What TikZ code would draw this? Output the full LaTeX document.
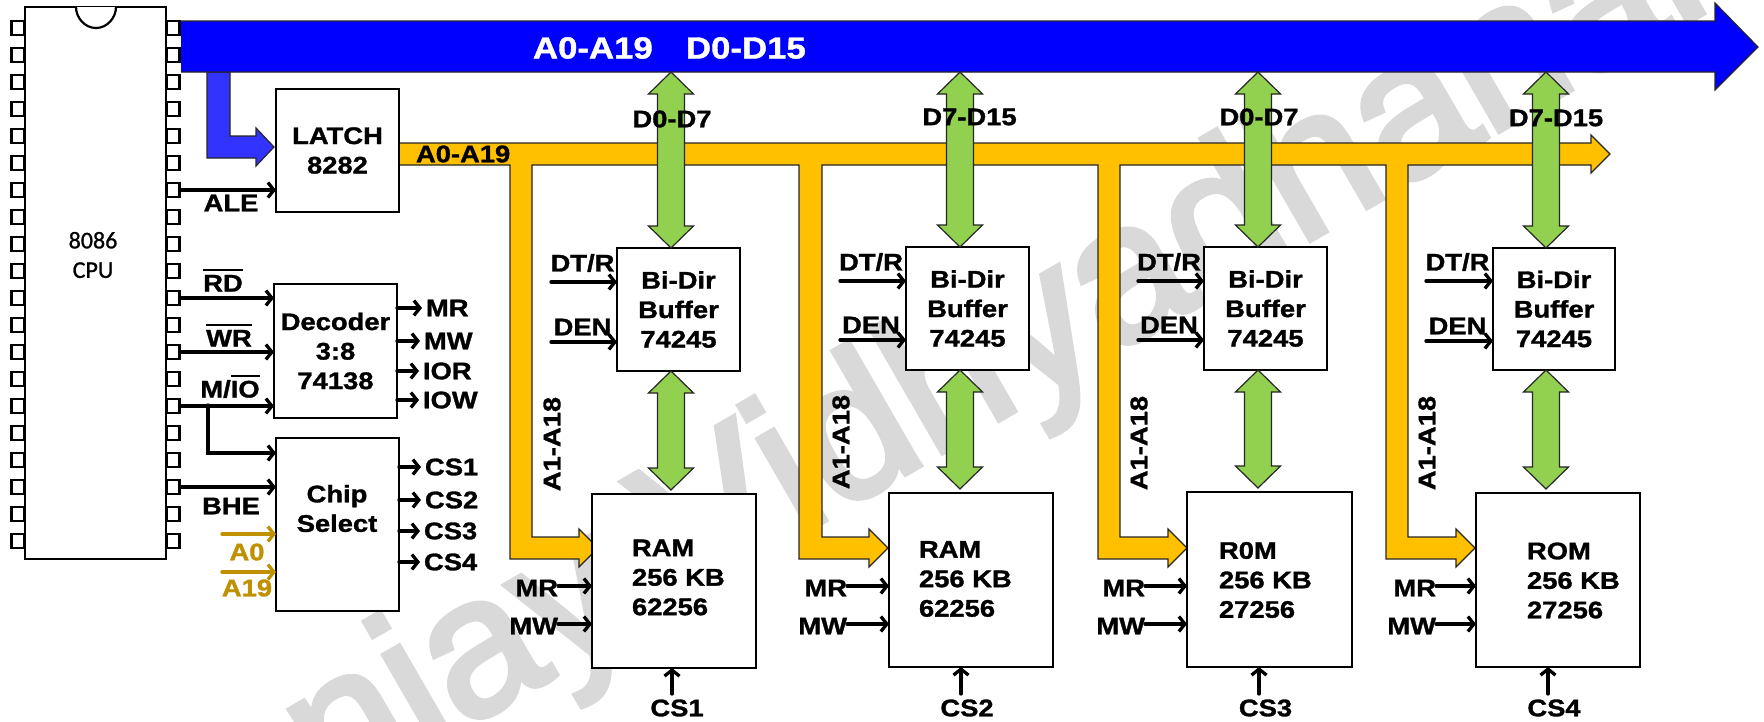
\documentclass[tikz,border=0pt]{standalone}
\usepackage{fontspec}
\usetikzlibrary{arrows.meta,calc}
\newfontfamily\lblfont{Liberation Sans}[FakeStretch=1.14,BoldFeatures={FakeBold=1.3}]
\newfontfamily\wmfont{Liberation Sans}[FakeBold=3]
\newfontfamily\cpufont{Carlito}[FakeBold=1]
\definecolor{busblue}{HTML}{0000FF}
\definecolor{elbowblue}{HTML}{3333FF}
\definecolor{busorange}{HTML}{FFC000}
\definecolor{busgreen}{HTML}{92D050}
\definecolor{addrgold}{HTML}{BF9000}
\definecolor{wmgray}{HTML}{D9D9D9}
\newcommand\ovl[1]{\leavevmode\vbox{\hrule height 1.6pt\kern 4pt\hbox{#1}}}
\newcommand\blockbox[6]{\node[blk,minimum width={(#4-#2)*1pt},minimum height={(#5-#3)*1pt}] (#1) at ({(#2+#4)/2},{(#3+#5)/2}) {#6};}
\newcommand\greenarrow[2]{%
  \coordinate (ta) at #1; \coordinate (tb) at #2;
  \path[fatgreen] (ta) -- ($(ta)+(22.5,22)$) -- ($(ta)+(13.5,22)$) -- ($(tb)+(13.5,-22)$) -- ($(tb)+(22.5,-22)$) -- (tb)
    -- ($(tb)+(-22.5,-22)$) -- ($(tb)+(-13.5,-22)$) -- ($(ta)+(-13.5,22)$) -- ($(ta)+(-22.5,22)$) -- cycle;}
\tikzset{
  blk/.style={draw=black,line width=2pt,fill=white,inner sep=0pt,outer sep=0pt,align=center,font=\lblfont\bfseries\fontsize{24}{29.5}\selectfont},
  icpin/.style={draw=black,line width=2.4pt,fill=white,inner sep=0pt,outer sep=0pt,minimum width=13pt,minimum height=14pt},
  lbl/.style={inner sep=0pt,outer sep=0pt,align=center,font=\lblfont\bfseries\fontsize{24}{29.5}\selectfont},
  lbll/.style={lbl,align=left},
  sig/.style={draw=black,line width=3.3pt,line cap=round,-{Straight Barb[length=6pt,width=15pt]}},
  sigout/.style={sig,shorten >=4pt},
  goldsig/.style={draw=addrgold,line width=3.3pt,line cap=round,-{Straight Barb[length=6pt,width=15pt]}},
  fatgreen/.style={fill=busgreen,draw=black!85,line width=1.2pt,line join=miter},
  fatorange/.style={fill=busorange,draw=black!85,line width=1.2pt,line join=miter},
  fatblue/.style={fill=busblue,draw=black!85,line width=1.2pt,line join=miter},
}
\begin{document}
\begin{tikzpicture}[x=1pt,y=-1pt]
\useasboundingbox (0,0) rectangle (1764,721);
\clip (0,0) rectangle (1764,721);
% watermark
\node[rotate=30,anchor=base west,inner sep=0pt,text=wmgray,font=\wmfont\fontsize{196}{196}\selectfont] (wm) at (330,806) {njay Vidhyadhanan};
% CPU
\foreach \i in {1,...,20}{
  \node[icpin] (pL\i) at (18,{28+27*(\i-1)}) {};
  \node[icpin] (pR\i) at (173,{28+27*(\i-1)}) {};
}
\node[draw=black,line width=2.4pt,fill=white,minimum width=141pt,minimum height=552pt,inner sep=0pt,outer sep=0pt] (cpu) at (95.5,283) {};
\draw[black,line width=2.2pt,fill=white] (76,7) .. controls (76,18) and (85,28) .. (96,28) .. controls (107,28) and (116,18) .. (116,7);
\node[inner sep=0pt,align=center,font=\cpufont\fontsize{24}{29.5}\selectfont] (cpul) at (93,255) {8086\\CPU};
% blue elbow and bus
\path[fatblue,fill=elbowblue] (207,72) -- (230,72) -- (230,136) -- (256,136) -- (256,128) -- (274,147) -- (256,166) -- (256,158) -- (207,158) -- cycle;
\path[fatblue] (181,21) -- (1715,21) -- (1715,3) -- (1758,47) -- (1715,90) -- (1715,72) -- (181,72);
\node[lbl,text=white,font=\lblfont\bfseries\fontsize{30.5}{30}\selectfont,anchor=west] (busa) at (533,48) {A0-A19};
\node[lbl,text=white,font=\lblfont\bfseries\fontsize{30.5}{30}\selectfont,anchor=west] (busd) at (686,48) {D0-D15};
% orange address bus with branches
\path[fatorange] (399,143) -- (1591,143) -- (1591,135) -- (1610,154) -- (1591,173) -- (1591,165)
  -- (1408,165) -- (1408,537) -- (1456,537) -- (1456,529) -- (1475,548) -- (1456,567) -- (1456,559) -- (1386,559) -- (1386,165)
  -- (1120,165) -- (1120,537) -- (1168,537) -- (1168,529) -- (1187,548) -- (1168,567) -- (1168,559) -- (1098,559) -- (1098,165)
  -- (822,165) -- (822,537) -- (869,537) -- (869,529) -- (888,548) -- (869,567) -- (869,559) -- (799,559) -- (799,165)
  -- (532,165) -- (532,537) -- (579,537) -- (579,529) -- (598,548) -- (579,567) -- (579,559) -- (510,559) -- (510,165)
  -- (399,165) -- cycle;
% boxes
\blockbox{latch}{276}{89}{399}{212}{LATCH\\8282}
\blockbox{dec}{274}{284}{397}{418}{Decoder\\3:8\\74138}
\blockbox{chip}{276}{438}{399}{611}{}
\blockbox{bufa}{617}{248}{740}{371}{Bi-Dir\\Buffer\\74245}
\blockbox{bufb}{906}{247}{1029}{370}{Bi-Dir\\Buffer\\74245}
\blockbox{bufc}{1204}{247}{1327}{370}{Bi-Dir\\Buffer\\74245}
\blockbox{bufd}{1493}{248}{1615}{370}{Bi-Dir\\Buffer\\74245}
\blockbox{mema}{592}{494}{756}{668}{}
\blockbox{memb}{889}{493}{1053}{667}{}
\blockbox{memc}{1187}{492}{1352}{667}{}
\blockbox{memd}{1476}{493}{1640}{667}{}
% green data arrows
\coordinate (gxa) at (671,72);
\coordinate (gxb) at (960,72);
\coordinate (gxc) at (1258,72);
\coordinate (gxd) at (1546,72);
\greenarrow{(gxa)}{(gxa |- bufa.north)}
\greenarrow{(gxb)}{(gxb |- bufb.north)}
\greenarrow{(gxc)}{(gxc |- bufc.north)}
\greenarrow{(gxd)}{(gxd |- bufd.north)}
\greenarrow{(gxa |- bufa.south)}{($(gxa |- mema.north)+(0,-4)$)}
\greenarrow{(gxb |- bufb.south)}{($(gxb |- memb.north)+(0,-4)$)}
\greenarrow{(gxc |- bufc.south)}{($(gxc |- memc.north)+(0,-4)$)}
\greenarrow{(gxd |- bufd.south)}{($(gxd |- memd.north)+(0,-4)$)}
% CPU control signals
\draw[sig] (pR7.east) -- (pR7.east -| latch.west);
\draw[sig] (pR11.east) -- (pR11.east -| dec.west);
\draw[sig] (pR13.east) -- (pR13.east -| dec.west);
\draw[sig] (pR15.east) -- (pR15.east -| dec.west);
\coordinate (mio) at (208,405);
\coordinate (miob) at (208,453);
\draw[sig] (mio) -- (miob) -- (miob -| chip.west);
\draw[sig] (pR18.east) -- (pR18.east -| chip.west);
\coordinate (azero) at (222,534);
\coordinate (anine) at (222,572);
\draw[goldsig] (azero) -- (azero -| chip.west);
\draw[goldsig] (anine) -- (anine -| chip.west);
% texts: left
\node[lbl] (ale) at (231,203) {ALE};
\node[lbl,anchor=base] (rd) at (223,291.5) {\ovl{RD}};
\node[lbl,anchor=base] (wr) at (229,346.5) {\ovl{WR}};
\node[lbl,anchor=base] (mion) at (230,397.5) {M/\ovl{IO}};
\node[lbl] (bhe) at (231,506) {BHE};
\node[lbl,text=addrgold] (azl) at (247,552) {A0};
\node[lbl,text=addrgold] (anl) at (247,588) {A19};
\node[lbl] (cst) at (337,508.5) {Chip\\Select};
\node[lbl,text=black,anchor=west] (ala) at (416,154) {A0-A19};
% decoder outputs
\coordinate (omr) at (dec.east |- 0,308);
\coordinate (omw) at (dec.east |- 0,341);
\coordinate (oir) at (dec.east |- 0,371);
\coordinate (oiw) at (dec.east |- 0,400);
\node[lbl,anchor=west] (tmr) at (426,308) {MR};
\node[lbl,anchor=west] (tmw) at (424,341) {MW};
\node[lbl,anchor=west] (tir) at (423,371) {IOR};
\node[lbl,anchor=west] (tiw) at (423,400) {IOW};
\draw[sigout] (omr) -- (tmr.west);
\draw[sigout] (omw) -- (tmw.west);
\draw[sigout] (oir) -- (tir.west);
\draw[sigout] (oiw) -- (tiw.west);
% chip select outputs
\coordinate (oca) at (chip.east |- 0,467);
\coordinate (ocb) at (chip.east |- 0,500);
\coordinate (occ) at (chip.east |- 0,531);
\coordinate (ocd) at (chip.east |- 0,562);
\node[lbl,anchor=west] (tca) at (425,467) {CS1};
\node[lbl,anchor=west] (tcb) at (425,500) {CS2};
\node[lbl,anchor=west] (tcc) at (424,531) {CS3};
\node[lbl,anchor=west] (tcd) at (424,562) {CS4};
\draw[sigout] (oca) -- (tca.west);
\draw[sigout] (ocb) -- (tcb.west);
\draw[sigout] (occ) -- (tcc.west);
\draw[sigout] (ocd) -- (tcd.west);
% data labels
\node[lbl] (da) at (672,119) {D0-D7};
\node[lbl] (db) at (969.5,117) {D7-D15};
\node[lbl] (dc) at (1259,117) {D0-D7};
\node[lbl] (dd) at (1556,118) {D7-D15};
% A1-A18
\node[lbl,rotate=90] (aa) at (552,444) {A1-A18};
\node[lbl,rotate=90] (ab) at (841,442) {A1-A18};
\node[lbl,rotate=90] (ac) at (1139,443) {A1-A18};
\node[lbl,rotate=90] (ad) at (1427,443) {A1-A18};
% buffer control
\foreach \n/\x/\ya/\yb/\t in {a/551/282/342/582.5,b/840/281/340/871,c/1138/281/340/1169,d/1426/281/341/1457.5}{
  \coordinate (cta\n) at (\x,\ya);
  \coordinate (ctb\n) at (\x,\yb);
  \draw[sig] (cta\n) -- (cta\n -| buf\n.west);
  \draw[sig] (ctb\n) -- (ctb\n -| buf\n.west);
  \node[lbl] (dt\n) at (\t,{\ya-19}) {DT/R};
  \node[lbl] (den\n) at (\t,{\yb-15}) {DEN};
}
% memory texts
\node[lbll,anchor=west] (mta) at (632,577.5) {RAM\\256 KB\\62256};
\node[lbll,anchor=west] (mtb) at (919,579) {RAM\\256 KB\\62256};
\node[lbll,anchor=west] (mtc) at (1219,580) {R0M\\256 KB\\27256};
\node[lbll,anchor=west] (mtd) at (1527,580.5) {ROM\\256 KB\\27256};
% memory controls
\foreach \n/\x/\cx/\ct/\cs in {a/558/672/677/CS1,b/847/961/967/CS2,c/1145/1259/1265.5/CS3,d/1436/1548/1554/CS4}{
  \node[lbl,anchor=east] (mr\n) at (\x,588) {MR};
  \node[lbl,anchor=east] (mw\n) at (\x,626) {MW};
  \coordinate (mra\n) at (\x,586);
  \coordinate (mwa\n) at (\x,624);
  \draw[sig] (mra\n) -- (mra\n -| mem\n.west);
  \draw[sig] (mwa\n) -- (mwa\n -| mem\n.west);
  \node[lbl] (cs\n) at (\ct,708) {\cs};
  \coordinate (csb\n) at (\cx,694);
  \draw[sig] (csb\n) -- (csb\n |- mem\n.south);
}
\end{tikzpicture}
\end{document}
